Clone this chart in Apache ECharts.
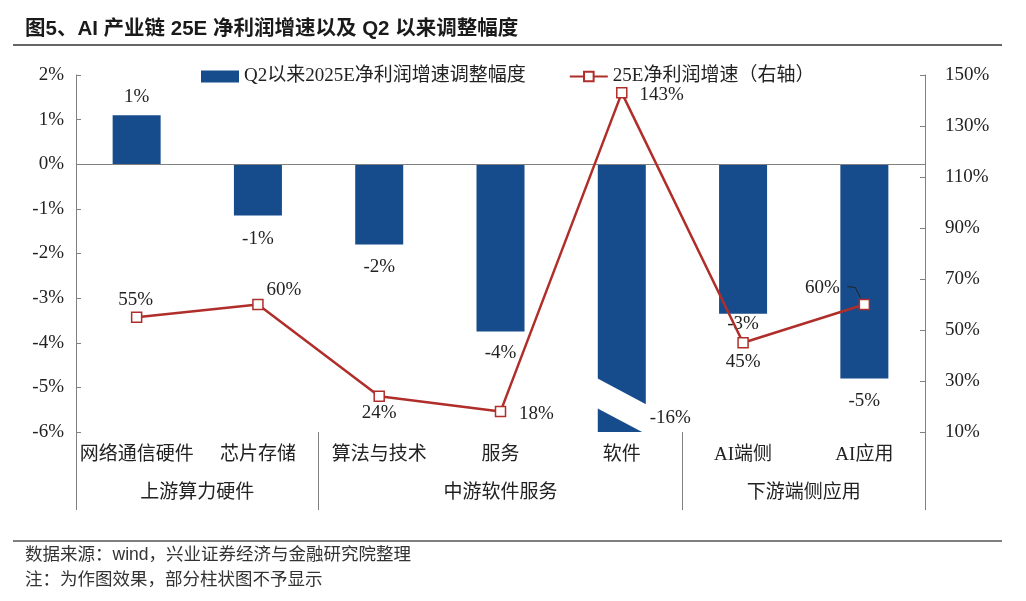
<!DOCTYPE html>
<html><head><meta charset="utf-8">
<script src="https://cdn.jsdelivr.net/npm/echarts@6/dist/echarts.min.js"></script>
<style>html,body{margin:0;padding:0;background:#fff}#c{width:1026px;height:601px}</style>
</head><body><div id="c"></div>
<script>
// ---- data ----
const categories = ['网络通信硬件','芯片存储','算法与技术','服务','软件','AI端侧','AI应用'];
const adjustValues = [1.1, -1.15, -1.8, -3.75, -16, -3.35, -4.8];   // Q2以来2025E净利润增速调整幅度 (%)
const growthValues = [55, 60, 24, 18, 143, 45, 60];                // 25E净利润增速 (%)
const groupNames = ['上游算力硬件','中游软件服务','下游端侧应用'];
const groupStarts = [0, 2, 5];
const groupEnds = [2, 5, 7];
const leftMin = -6, leftMax = 2, leftStep = 1;
const rightTicks = [10, 30, 50, 70, 90, 110, 130, 150];
const barName = 'Q2以来2025E净利润增速调整幅度';
const lineName = '25E净利润增速（右轴）';
const titleText = '图5、AI 产业链 25E 净利润增速以及 Q2 以来调整幅度';
const sourceText = '数据来源：wind，兴业证券经济与金融研究院整理';
const noteText = '注：为作图效果，部分柱状图不予显示';

// ---- styles ----
const SERIF = '"Liberation Serif","Times New Roman","Noto Sans CJK SC",serif';
const SANS = '"Liberation Sans","Noto Sans CJK SC",sans-serif';
const AXIS_COLOR = '#808080';
const BAR_COLOR = '#164b8c';
const LINE_COLOR = '#b02e2a';
const TEXT_COLOR = '#222';
const barLabelDist = [9, 14, 13, 12, 0, 1, 13];
const lineLabelOffsets = [[-1,-17],[26,-14],[0,17],[36,2],[40,2],[0,19],[-42,-16]];
const leaderIndex = 6;
const breakBand = {topLeft:-4.78, topRight:-5.40, botLeft:-5.45, botRight:-6.07, half:26};

const chart = echarts.init(document.getElementById('c'));

const groupCenters = groupStarts.map((s,i)=>(s+groupEnds[i])/2);
const groupBounds = [groupStarts[0]].concat(groupEnds);

const barData = adjustValues.map((v,i)=>{
  if (v < leftMin) {
    return {value:v, label:{position:['100%','100%'], offset:[4,-14], align:'left', verticalAlign:'middle'}};
  }
  return {value:v, label:{position: v>=0 ? 'top' : 'bottom', distance: barLabelDist[i]}};
});
const lineData = growthValues.map((v,i)=>({value:v, label:{offset:lineLabelOffsets[i]}}));

const labelFont = {fontFamily:SERIF, fontSize:19, color:TEXT_COLOR};

chart.setOption({
  animation:false,
  backgroundColor:'#fff',
  grid:{left:76, right:101, top:75, bottom:169, outerBoundsMode:'none'},
  legend:{
    left:196, top:62, itemWidth:38, itemHeight:12, itemGap:43,
    textStyle:{fontFamily:SERIF, fontSize:19, color:TEXT_COLOR},
    data:[{name:barName, icon:'rect'}, {name:lineName}]
  },
  xAxis:[
    {type:'category', data:categories, position:'bottom',
     axisLine:{show:false}, axisTick:{show:false}, splitLine:{show:false},
     axisLabel:Object.assign({margin:14, interval:0}, labelFont)},
    {type:'value', min:0, max:groupEnds[groupEnds.length-1], position:'bottom',
     axisLine:{show:false}, splitLine:{show:false},
     axisTick:{show:true, inside:false, length:78, customValues:groupBounds, lineStyle:{color:AXIS_COLOR, width:1}},
     axisLabel:Object.assign({margin:52, customValues:groupCenters,
       formatter:(v)=>{const k=groupCenters.findIndex(c=>Math.abs(c-v)<1e-6); return k>=0?groupNames[k]:'';}}, labelFont)}
  ],
  yAxis:[
    {type:'value', min:leftMin, max:leftMax, interval:leftStep, position:'left',
     axisLine:{show:true, lineStyle:{color:AXIS_COLOR, width:1}},
     axisTick:{show:true, inside:true, length:5, lineStyle:{color:AXIS_COLOR}},
     splitLine:{show:false},
     axisLabel:Object.assign({margin:12, formatter:'{value}%'}, labelFont)},
    {type:'value', min:rightTicks[0], max:rightTicks[rightTicks.length-1], position:'right',
     axisLine:{show:true, lineStyle:{color:AXIS_COLOR, width:1}},
     axisTick:{show:true, inside:true, length:5, customValues:rightTicks, lineStyle:{color:AXIS_COLOR}},
     splitLine:{show:false},
     axisLabel:Object.assign({margin:20, customValues:rightTicks, formatter:'{value}%'}, labelFont)}
  ],
  series:[
    {name:barName, type:'bar', xAxisIndex:0, yAxisIndex:0, data:barData, barWidth:48,
     clip:true,
     itemStyle:{color:BAR_COLOR, borderRadius:0},
     label:Object.assign({show:true, formatter:p=>Math.round(p.value)+'%'}, labelFont),
     markLine:{silent:true, symbol:['none','none'], label:{show:false},
       lineStyle:{color:AXIS_COLOR, type:'solid', width:1}, emphasis:{disabled:true},
       data:[{yAxis:0}]},
     z:2},
    {name:lineName, type:'line', xAxisIndex:0, yAxisIndex:1, data:lineData,
     color:LINE_COLOR,
     symbol:'rect', symbolSize:10,
     itemStyle:{color:'#fff', borderColor:LINE_COLOR, borderWidth:1.5},
     lineStyle:{color:LINE_COLOR, width:2.5},
     label:Object.assign({show:true, position:'inside', formatter:p=>Math.round(p.value)+'%', textBorderWidth:0}, labelFont),
     z:5}
  ]
});

// decorations: title, rules, footer, the break band for the truncated bar, label leader
const graphics = [
  {type:'text', left:25, top:19, style:{text:titleText, font:'bold 20.5px '+SANS, fill:'#1a1a1a'}},
  {type:'line', shape:{x1:13, y1:45, x2:1002, y2:45}, style:{stroke:'#333', lineWidth:1.5}},
  {type:'line', shape:{x1:13, y1:541, x2:1002, y2:541}, style:{stroke:'#555', lineWidth:1.5}},
  {type:'text', left:25, top:546, style:{text:sourceText, font:'17.5px '+SANS, fill:'#333'}},
  {type:'text', left:25, top:571, style:{text:noteText, font:'17.5px '+SANS, fill:'#333'}}
];
adjustValues.forEach((v,i)=>{
  if (v < leftMin) {
    const cx = chart.convertToPixel({seriesIndex:0}, [i, 0])[0];
    const y = val => chart.convertToPixel({seriesIndex:0}, [i, val])[1];
    graphics.push({type:'polygon', z:50, silent:true,
      shape:{points:[[cx-breakBand.half, y(breakBand.topLeft)],[cx+breakBand.half, y(breakBand.topRight)],
                     [cx+breakBand.half, y(breakBand.botRight)],[cx-breakBand.half, y(breakBand.botLeft)]]},
      style:{fill:'#fff'}});
  }
});
{
  const p = chart.convertToPixel({seriesIndex:1}, [leaderIndex, growthValues[leaderIndex]]);
  graphics.push({type:'polyline', z:60, silent:true,
    shape:{points:[[p[0]-17, p[1]-18],[p[0]-9, p[1]-17],[p[0]-4, p[1]-7]]},
    style:{stroke:'#222', lineWidth:1, fill:null}});
}
chart.setOption({graphic:graphics});
</script>
</body></html>
